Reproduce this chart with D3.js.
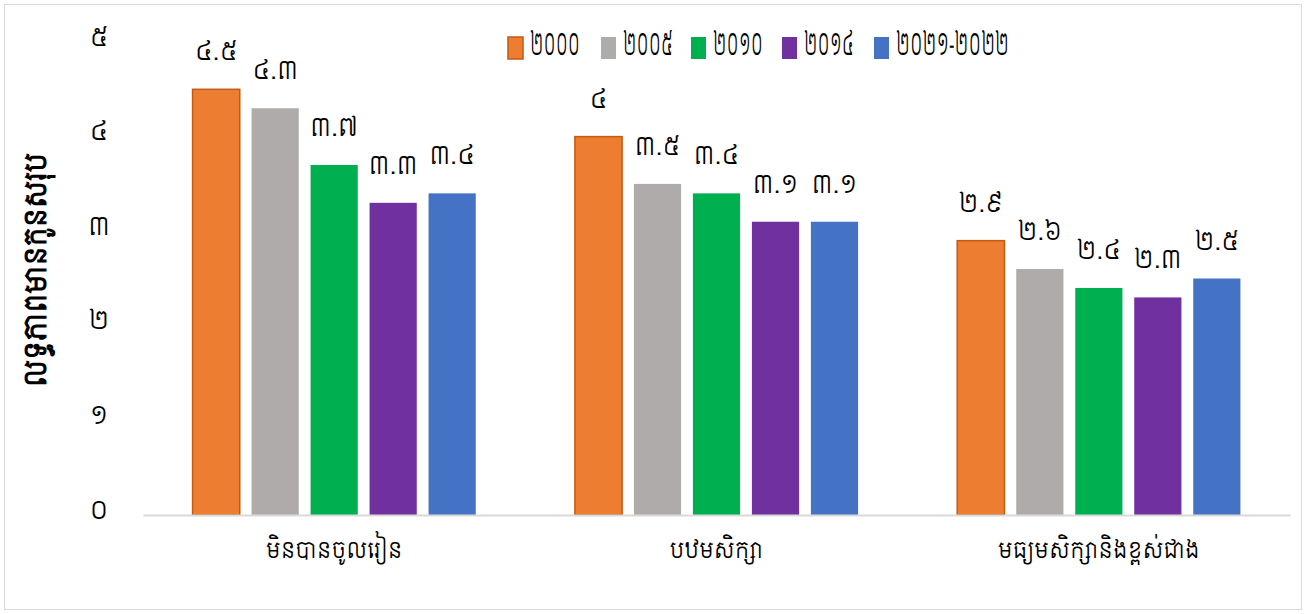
<!DOCTYPE html>
<html>
<head>
<meta charset="utf-8">
<script src="https://cdn.jsdelivr.net/npm/d3@7"></script>
<style>
  html, body { margin: 0; padding: 0; background: #fff; }
  svg { display: block; }
  text { font-family: "Siemreap", "Noto Sans Khmer", sans-serif; fill: #000; }
</style>
</head>
<body>
<svg id="chart" width="1306" height="614"></svg>
<script>
const categories = ["មិនបានចូលរៀន", "បឋមសិក្សា", "មធ្យមសិក្សានិងខ្ពស់ជាង"];
const seriesNames = ["២០០០", "២០០៥", "២០១០", "២០១៤", "២០២១-២០២២"];
const seriesColors = ["#ED7D31", "#AFABAB", "#00B050", "#7030A0", "#4472C4"];
const seriesStroke = ["#C55A11", "none", "none", "none", "none"];
const values2000 = [4.5, 4.0, 2.9];
const values2005 = [4.3, 3.5, 2.6];
const values2010 = [3.7, 3.4, 2.4];
const values2014 = [3.3, 3.1, 2.3];
const values2021 = [3.4, 3.1, 2.5];
const yTicks = [0, 1, 2, 3, 4, 5];
const yTitle = "លទ្ធភាពមានកូនសរុប";

const seriesValues = [values2000, values2005, values2010, values2014, values2021];
const khDigits = ["០","១","២","៣","៤","៥","៦","៧","៨","៩"];
const toKh = s => String(s).replace(/[0-9]/g, d => khDigits[+d]);

const svg = d3.select("#chart");
svg.append("rect").attr("x", 4.5).attr("y", 4.5).attr("width", 1297).attr("height", 605)
  .attr("fill", "#fff").attr("stroke", "#d9d9d9").attr("stroke-width", 1);

const plot = { left: 143, right: 1290, top: 42, bottom: 515 };

const x0 = d3.scaleBand().domain(categories).range([plot.left, plot.right]).paddingInner(0).paddingOuter(0);
const x1 = d3.scaleBand().domain(seriesNames.map((d, i) => i))
  .range([0, x0.bandwidth()]).paddingInner(0.2).paddingOuter(0.84);
const y = d3.scaleLinear().domain([0, 5]).range([plot.bottom, plot.top]);

const yAxis = d3.axisLeft(y).tickValues(yTicks).tickSize(0).tickFormat(d => toKh(d));
const gy = svg.append("g").attr("transform", `translate(99,0)`).call(yAxis);
gy.select(".domain").remove();
gy.selectAll("text").attr("font-size", 25).attr("dy", "0.12em").attr("x", 0)
  .attr("text-anchor", "middle").style("font-family", null);

const groups = svg.append("g").selectAll("g").data(categories).join("g")
  .attr("transform", d => `translate(${x0(d)},0)`);

seriesNames.forEach((s, si) => {
  groups.append("rect")
    .attr("x", x1(si))
    .attr("width", x1.bandwidth())
    .attr("y", (d, ci) => y(seriesValues[si][ci]))
    .attr("height", (d, ci) => y(0) - y(seriesValues[si][ci]))
    .attr("fill", seriesColors[si])
    .attr("stroke", seriesStroke[si])
    .attr("stroke-width", seriesStroke[si] === "none" ? 0 : 1.5);
  groups.append("text")
    .attr("x", x1(si) + x1.bandwidth() / 2)
    .attr("y", (d, ci) => y(seriesValues[si][ci]) - 29)
    .attr("text-anchor", "middle")
    .attr("font-size", 24)
    .text((d, ci) => toKh(seriesValues[si][ci]));
});

const xAxis = d3.axisBottom(x0).tickSize(0).tickPadding(24);
const gx = svg.append("g").attr("transform", `translate(0,${plot.bottom})`).call(xAxis);
gx.select(".domain").attr("stroke", "#d9d9d9").attr("stroke-width", 2);
gx.selectAll("text").attr("font-size", 21.5).attr("dy", "0.9em").style("font-family", null);

svg.append("text")
  .attr("transform", `translate(46,270) rotate(-90)`)
  .attr("text-anchor", "middle")
  .attr("font-size", 28)
  .attr("font-weight", "bold")
  .text(yTitle);

const legendX = [508, 601, 691, 782, 874];
const legendTextW = [50, 50, 50, 50, 113];
const lg = svg.append("g");
seriesNames.forEach((s, i) => {
  lg.append("rect").attr("x", legendX[i]).attr("y", 37).attr("width", 15).attr("height", 22)
    .attr("fill", seriesColors[i])
    .attr("stroke", seriesStroke[i]).attr("stroke-width", seriesStroke[i] === "none" ? 0 : 1.5);
  lg.append("text").attr("x", legendX[i] + 22).attr("y", 46).attr("dy", "0.3em")
    .attr("font-size", 30)
    .attr("textLength", legendTextW[i]).attr("lengthAdjust", "spacingAndGlyphs")
    .text(s);
});
</script>
</body>
</html>
